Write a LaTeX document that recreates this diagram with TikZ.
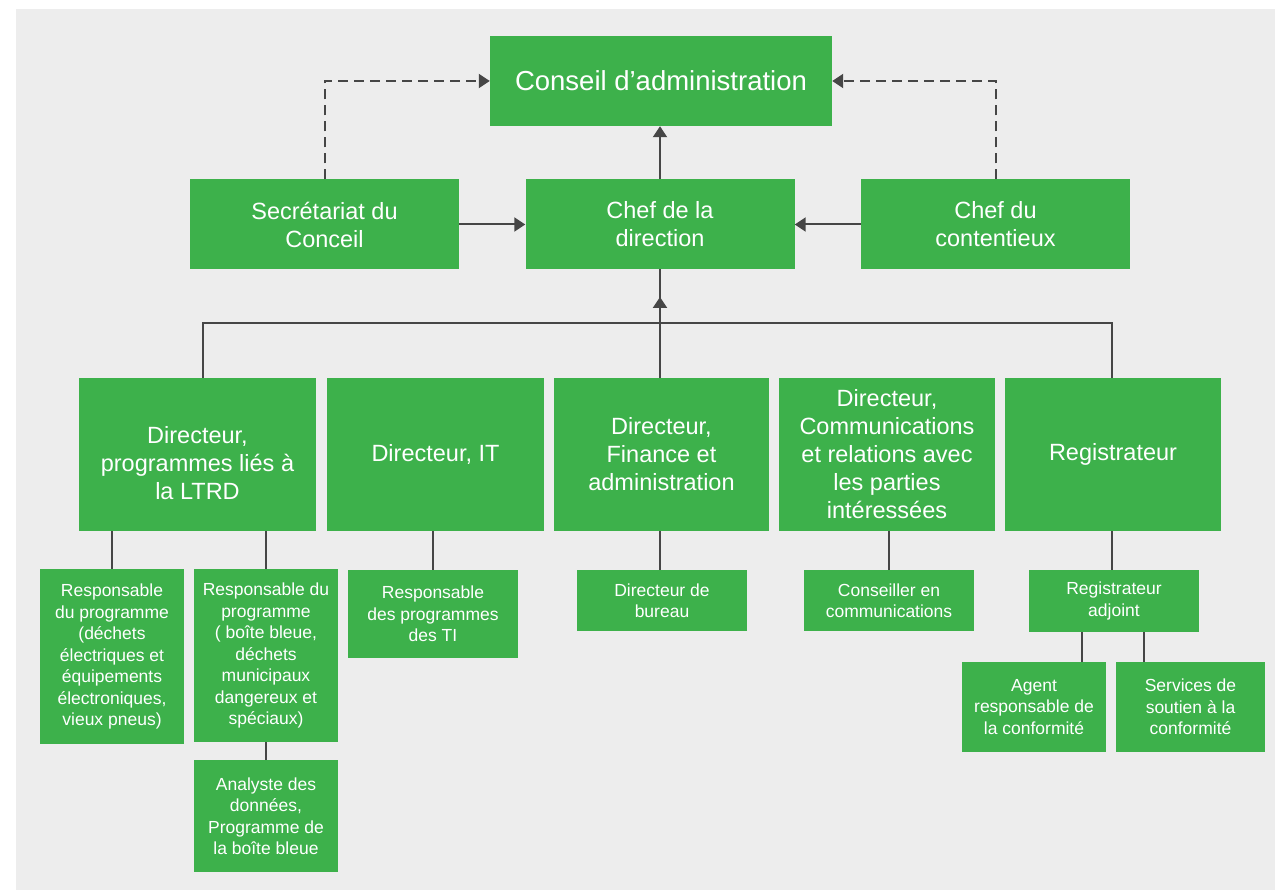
\documentclass[tikz,border=0pt]{standalone}
\usepackage{fontspec}
\setmainfont{Liberation Sans}
\usetikzlibrary{arrows.meta}
\definecolor{bg}{HTML}{EDEDED}
\definecolor{gr}{HTML}{3DB14B}
\definecolor{ln}{HTML}{464646}
\begin{document}
\begin{tikzpicture}[x=1pt,y=-1pt,
 box/.style={fill=gr, text=white, inner sep=0pt, align=center, anchor=center},
 big/.style={box, font=\fontsize{27.5}{31}\selectfont},
 mid/.style={box, font=\fontsize{23.5}{28}\selectfont},
 sml/.style={box, font=\fontsize{17.5}{21.5}\selectfont},
 txt/.style={text=white, inner sep=0pt, align=center},
 conn/.style={draw=ln, line width=2pt},
 dsh/.style={conn, dash pattern=on 10pt off 6pt},
 arr/.style={-{Triangle[length=11pt,width=14pt]}}]
\fill[white] (0,0) rectangle (1275,890);
\fill[bg] (16,9) rectangle (1275,890);
\useasboundingbox (0,0) rectangle (1275,890);

% level 1-2
\node[big, minimum width=342pt, minimum height=90pt] (conseil) at (661,81) {Conseil d’administration};
\node[mid, minimum width=269pt, minimum height=90pt] (secr) at (324.5,224.5) {Secrétariat du\\Conceil};
\node[mid, minimum width=269pt, minimum height=90pt] (chef) at (660,224) {Chef de la\\direction};
\node[mid, minimum width=269pt, minimum height=90pt] (cont) at (995.5,224.5) {Chef du\\contentieux};

% level 3
\node[mid, minimum width=237pt, minimum height=153pt] (ltrd) at (197.5,454.5) {};
\node[txt, font=\fontsize{23.5}{28}\selectfont] (ltrdt) at (197.5,463) {Directeur,\\programmes liés à\\la LTRD};
\node[mid, minimum width=217pt, minimum height=153pt] (it) at (435.5,454.5) {Directeur, IT};
\node[mid, minimum width=215pt, minimum height=153pt] (fin) at (661.5,454.5) {Directeur,\\Finance et\\administration};
\node[mid, minimum width=216pt, minimum height=153pt] (comm) at (887,454.5) {Directeur,\\Communications\\et relations avec\\les parties\\intéressées};
\node[mid, minimum width=216pt, minimum height=153pt] (reg) at (1113,454.5) {Registrateur};

% level 4
\node[sml, minimum width=144pt, minimum height=175pt] (resp1) at (112,656.5) {Responsable\\du programme\\(déchets\\électriques et\\équipements\\électroniques,\\vieux pneus)};
\node[sml, minimum width=144pt, minimum height=173pt] (resp2) at (266,655.5) {Responsable du\\programme\\( boîte bleue,\\déchets\\municipaux\\dangereux et\\spéciaux)};
\node[sml, minimum width=144pt, minimum height=112pt] (anal) at (266,816) {Analyste des\\données,\\Programme de\\la boîte bleue};
\node[sml, minimum width=170pt, minimum height=88pt] (respti) at (433,614) {Responsable\\des programmes\\des TI};
\node[sml, minimum width=170pt, minimum height=61pt] (bureau) at (662,600.5) {Directeur de\\bureau};
\node[sml, minimum width=170pt, minimum height=61pt] (cons) at (889,600.5) {Conseiller en\\communications};
\node[sml, minimum width=170pt, minimum height=62pt] (adj) at (1114,601) {Registrateur\\adjoint};
\node[sml, minimum width=144pt, minimum height=90pt] (agent) at (1034,707) {Agent\\responsable de\\la conformité};
\node[sml, minimum width=149pt, minimum height=90pt] (serv) at (1190.5,707) {Services de\\soutien à la\\conformité};

% top connectors
\draw[conn,arr] (chef.north) -- (chef.north |- conseil.south);
\draw[conn,arr] (secr.east) -- (chef.west |- secr.east);
\draw[conn,arr] (cont.west) -- (chef.east |- cont.west);
\draw[dsh,arr] (secr.north) |- (conseil.west);
\draw[dsh,arr] (cont.north) |- (conseil.east);

% bus
\coordinate (bl) at (203,323);
\coordinate (br) at (1112,323);
\coordinate (mt) at (660,297);
\draw[conn] (ltrd.north -| bl) -- (bl) -- (br) -- (reg.north -| br);
\draw[conn] (chef.south) -- (chef.south |- fin.north);
\draw[conn,arr] (chef.south |- fin.north) -- (mt);

% lower connectors
\draw[conn] (resp1.north) -- (resp1.north |- ltrd.south);
\draw[conn] (resp2.north) -- (resp2.north |- ltrd.south);
\draw[conn] (anal.north) -- (resp2.south);
\draw[conn] (respti.north) -- (respti.north |- it.south);
\draw[conn] (bureau.north -| chef.south) -- (fin.south -| chef.south);
\draw[conn] (cons.north) -- (cons.north |- comm.south);
\draw[conn] (adj.north -| br) -- (reg.south -| br);
\coordinate (la) at (1082,0);
\coordinate (lb) at (1144,0);
\draw[conn] (adj.south -| la) -- (agent.north -| la);
\draw[conn] (adj.south -| lb) -- (serv.north -| lb);
\end{tikzpicture}
\end{document}
